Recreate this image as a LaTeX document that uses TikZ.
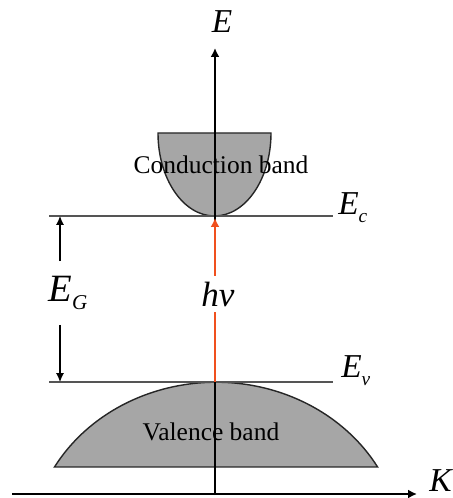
\documentclass[tikz,border=0pt]{standalone}
\usepackage{fontspec}
\setmainfont{Liberation Serif}
\usetikzlibrary{arrows.meta, positioning}
\definecolor{bandGray}{HTML}{A6A6A6}
\definecolor{levelGray}{HTML}{555555}
\definecolor{photonRed}{HTML}{F0501E}

\begin{document}
\begin{tikzpicture}[
    x=0.02cm, y=0.02cm,
    band/.style={draw=black!85, fill=bandGray, line width=0.8pt},
    level/.style={draw=levelGray, line width=1.1pt},
    axis/.style={-{Latex[length=5pt,width=5pt]}, line width=1pt},
    gaparrow/.style={-{Latex[length=5pt,width=4.5pt]}, line width=0.7pt},
    photon/.style={-{Latex[length=5pt,width=5pt]}, draw=photonRed, line width=1.4pt},
    lbl/.style={font=\fontsize{19}{22}\selectfont\itshape, inner sep=0pt},
    bandtext/.style={font=\fontsize{14.5}{17}\selectfont, inner sep=0pt},
]
\useasboundingbox (0,0) rectangle (453,498);

\draw[band] (158,365) arc[start angle=180, end angle=360, x radius=56.5, y radius=83] -- cycle;
\draw[band] (54.5,31) arc[start angle=150.3, end angle=29.7, x radius=186, y radius=168] -- cycle;

\node[bandtext] (cb) at (221,333) {Conduction band};
\node[bandtext] (vb) at (211,66) {Valence band};

\coordinate (ecL) at (49,282);
\coordinate (ecR) at (333,282);
\coordinate (evL) at (49,116);
\coordinate (evR) at (333,116);
\draw[level] (ecL) -- (ecR);
\draw[level] (evL) -- (evR);

\coordinate (origin) at (215,3);
\coordinate (eTip) at (215,450);
\coordinate (kStart) at (12,4);
\coordinate (kTip) at (417,4);
\draw[axis] (origin) -- (eTip);
\draw[axis] (kStart) -- (kTip);

\coordinate (evMid) at (215,116);
\coordinate (ecMid) at (215,280);
\draw[photon] (evMid) -- (ecMid);
\node[font=\fontsize{20}{24}\selectfont\itshape, fill=white, inner xsep=1pt,
      minimum height=0.64cm] (hv) at (218,204) {hν};

\node[lbl] (E) at (222,476) {E};
\node[lbl, anchor=base west] (Ec) at (338,283) {E\raisebox{-0.5ex}{\fontsize{11}{12}\selectfont c}};
\node[lbl, anchor=base west] (Ev) at (341,120) {E\raisebox{-0.5ex}{\fontsize{11}{12}\selectfont v}};
\node[lbl, anchor=base west] (K) at (429,7) {K};

\coordinate (gapC) at (60,282);
\coordinate (gapV) at (60,116);
\node[font=\fontsize{22}{26}\selectfont\itshape, inner sep=0pt, minimum height=1.26cm]
      (EG) at (68,205) {E\raisebox{-0.5ex}{\fontsize{12}{13}\selectfont G}};
\draw[gaparrow] (EG.north -| gapC) -- (gapC);
\draw[gaparrow] (EG.south -| gapV) -- (gapV);
\end{tikzpicture}
\end{document}
